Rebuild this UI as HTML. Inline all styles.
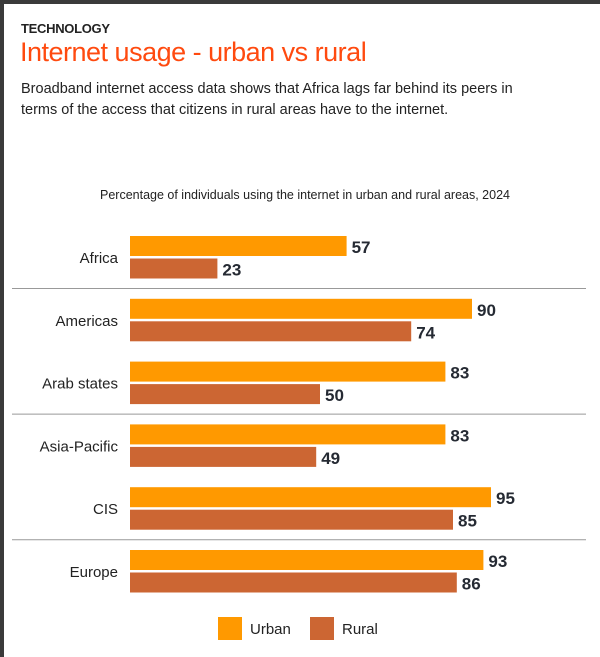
<!DOCTYPE html>
<html><head><meta charset="utf-8"><style>
body{margin:0;width:600px;height:657px;overflow:hidden;background:#fff;font-family:"Liberation Sans",sans-serif;position:relative}
.frame-top{position:absolute;left:0;top:0;width:600px;height:4px;background:#3a3a3a}
.frame-left{position:absolute;left:0;top:0;width:4px;height:657px;background:#3a3a3a}
.kicker{position:absolute;left:21px;top:21px;font-size:13px;font-weight:bold;color:#222;letter-spacing:-0.3px}
.title{position:absolute;left:20px;top:37px;font-size:27px;color:#ff4a0f;letter-spacing:-0.5px}
.desc{position:absolute;left:21px;top:79px;font-size:14.5px;line-height:21px;color:#222;width:525px}
</style></head><body>
<div class="frame-top"></div>
<div class="frame-left"></div>
<div class="kicker">TECHNOLOGY</div>
<div class="title">Internet usage - urban vs rural</div>
<div class="desc">Broadband internet access data shows that Africa lags far behind its peers in terms of the access that citizens in rural areas have to the internet.</div>
<svg id="chart" width="600" height="657" style="position:absolute;left:0;top:0">
<text x="305" y="199" text-anchor="middle" font-size="12.5" fill="#222" font-family="Liberation Sans, sans-serif">Percentage of individuals using the internet in urban and rural areas, 2024</text>
</svg>
<script>
const categories=["Africa","Americas","Arab states","Asia-Pacific","CIS","Europe"];
const urbanValues=[57,90,83,83,95,93];
const ruralValues=[23,74,50,49,85,86];
const seriesNames=["Urban","Rural"];
const svg=document.getElementById('chart');
const NS="http://www.w3.org/2000/svg";
const x0=130, scale=3.8;
const xPos=v=>x0+v*scale;
const rowY=i=>236+i*62.8;
function mk(t,a){const e=document.createElementNS(NS,t);for(const k in a)e.setAttribute(k,a[k]);svg.appendChild(e);return e;}
categories.forEach((c,i)=>{
  const y=rowY(i);
  const lab=mk('text',{x:118,y:y+27,'text-anchor':'end','font-size':15,fill:'#222','font-family':'Liberation Sans, sans-serif'});
  lab.textContent=c;
  
  
  [[urbanValues[i],'#ff9900',0],[ruralValues[i],'#cc6633',22.5]].forEach(([v,col,dy],s)=>{
    const r=mk('rect',{x:x0,y:y+dy,width:xPos(v)-x0,height:20,fill:col});
    
    
    const t=mk('text',{x:xPos(v)+5,y:y+dy+17,'font-size':17,'font-weight':'bold',fill:'#252a33','font-family':'Liberation Sans, sans-serif'});
    t.textContent=v;
    
    
  });
  if(i%2===0 && i<categories.length-1){
    const l=mk('line',{x1:12,x2:586,y1:y+52.5,y2:y+52.5,stroke:'#999','stroke-width':1});
    
    
  }
});
const legendCols=['#ff9900','#cc6633'];
const legendX=[218,310];
seriesNames.forEach((n,i)=>{
  const r=mk('rect',{x:legendX[i],y:617,width:24,height:23,fill:legendCols[i]});
  
  
  const t=mk('text',{x:legendX[i]+32,y:634,'font-size':15,fill:'#222','font-family':'Liberation Sans, sans-serif'});
  t.textContent=n;
  
  
});
</script>
</body></html>
